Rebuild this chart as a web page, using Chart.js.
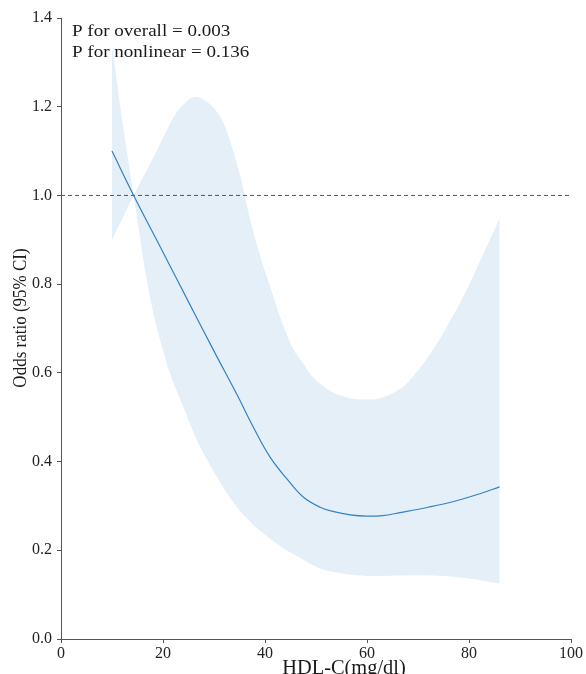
<!DOCTYPE html>
<html>
<head>
<meta charset="utf-8">
<script src="https://cdn.jsdelivr.net/npm/chart.js@4/dist/chart.umd.min.js"></script>
<style>
  body { margin: 0; background: #fff; }
  #wrap { width: 586px; height: 674px; }
</style>
</head>
<body>
<div id="wrap"><canvas id="rcs"></canvas></div>
<script>
// fitted odds ratio curve
const orX = [10, 14.25, 20, 25, 30, 34.5, 37.7, 41, 44.3, 47.5, 50.8, 53.5, 56.7, 60, 63, 66.5, 72, 77, 82, 86]
const orY = [1.10, 1.0, 0.872, 0.76, 0.649, 0.551, 0.478, 0.41, 0.361, 0.32, 0.297, 0.287, 0.28, 0.277, 0.278, 0.285, 0.297, 0.31, 0.327, 0.343]

// CI boundary that starts high (crosses at ~14)
const ciAX = [10, 12, 14.25, 16.85, 18.5, 20, 21.4, 24, 27, 30.6, 34, 37.5, 40, 43.6, 47, 50.2, 54, 58, 62, 66.5, 72.4, 78.9, 86]
const ciAY = [1.34, 1.17, 1.0, 0.808, 0.715, 0.651, 0.598, 0.523, 0.44, 0.365, 0.305, 0.26, 0.235, 0.205, 0.182, 0.162, 0.15, 0.144, 0.142, 0.143, 0.143, 0.138, 0.125]

// CI boundary that starts low
const ciBX = [10, 14.25, 18.8, 22.1, 24, 26.3, 28.5, 30.5, 31.9, 33.5, 35, 37, 39, 41, 43, 45.5, 47.5, 49, 50.8, 53.5, 56.7, 59.3, 62.6, 66.5, 69.1, 72.4, 75.6, 79, 82.2, 86]
const ciBY = [0.90, 1.0, 1.101, 1.176, 1.205, 1.222, 1.212, 1.19, 1.162, 1.11, 1.05, 0.95, 0.865, 0.795, 0.725, 0.655, 0.621, 0.596, 0.576, 0.555, 0.543, 0.54, 0.543, 0.564, 0.593, 0.643, 0.703, 0.775, 0.853, 0.948]

const refX = [0, 100]
const refY = [1.0, 1.0]

const xTicks = [0, 20, 40, 60, 80, 100]
const yTicks = [0, 0.2, 0.4, 0.6, 0.8, 1.0, 1.2, 1.4]

const pvals = ['P for overall = 0.003', 'P for nonlinear = 0.136']

const toPts = (xs, ys) => xs.map((x, i) => ({ x: x, y: ys[i] }))

const serif = '"Liberation Serif", "Times New Roman", serif'
const axisGrey = '#555'
const bandColor = 'rgb(228,239,247)'

//texts that sit outside the library titles
const textPlugin = {
    id: 'texts',
    afterDraw(chart) {
        const ctx = chart.ctx
        ctx.save()
        ctx.fillStyle = '#1a1a1a'
        ctx.textBaseline = 'alphabetic'
        ctx.textAlign = 'left'
        ctx.font = '17px ' + serif
        pvals.forEach((t, i) => {
            ctx.save()
            ctx.translate(72, 36 + i * 21)
            ctx.scale(1.12, 1)
            ctx.fillText(t, 0, 0)
            ctx.restore()
        })

        // x title
        ctx.save()
        ctx.font = '20px ' + serif
        ctx.textAlign = 'center'
        ctx.translate(344, 674)
        ctx.scale(1.02, 1)
        ctx.fillText('HDL-C(mg/dl)', 0, 0)
        ctx.restore()

        // y title
        ctx.save()
        ctx.font = '17px ' + serif
        ctx.textAlign = 'center'
        ctx.textBaseline = 'middle'
        ctx.translate(21, 318)
        ctx.rotate(-Math.PI / 2)
        ctx.scale(1, 1.1)
        ctx.fillText('Odds ratio (95% CI)', 0, 0)
        ctx.restore()
        ctx.restore()
    }
}

const ctx = document.getElementById('rcs').getContext('2d')
const myChart = new Chart(ctx, {
    type: 'line',
    data: {
        datasets: [
            {
                label: 'OR',
                data: toPts(orX, orY),
                borderColor: 'rgb(52,130,196)',
                borderWidth: 1.2,
                pointRadius: 0,
                tension: 0.4,
                fill: false,
                order: 0
            },
            {
                label: 'ref',
                data: toPts(refX, refY),
                borderColor: axisGrey,
                borderWidth: 1,
                borderDash: [4, 3],
                pointRadius: 0,
                fill: false,
                order: 1
            },
            {
                label: 'ciA',
                data: toPts(ciAX, ciAY),
                borderWidth: 0,
                borderColor: 'rgba(0,0,0,0)',
                pointRadius: 0,
                tension: 0.4,
                fill: false,
                order: 2
            },
            {
                label: 'ciB',
                data: toPts(ciBX, ciBY),
                borderWidth: 0,
                borderColor: 'rgba(0,0,0,0)',
                backgroundColor: bandColor,
                pointRadius: 0,
                tension: 0.4,
                fill: { target: 2 },
                order: 3
            }
        ]
    },
    options: {
        responsive: true,
        maintainAspectRatio: false,
        animation: false,
        layout: { padding: { top: 18, right: 15, left: 0, bottom: 0 } },
        plugins: {
            legend: { display: false },
            tooltip: { enabled: false }
        },
        scales: {
            x: {
                type: 'linear',
                min: 0,
                max: 100,
                afterFit: (s) => { s.height = 35 },
                afterBuildTicks: (s) => { s.ticks = xTicks.map(v => ({ value: v })) },
                grid: { drawOnChartArea: false, tickLength: 4, color: axisGrey },
                border: { color: axisGrey, width: 1 },
                ticks: { padding: 1, color: '#222', font: { family: serif, size: 16 }, maxRotation: 0 }
            },
            y: {
                type: 'linear',
                min: 0,
                max: 1.4,
                afterFit: (s) => { s.width = 61 },
                afterBuildTicks: (s) => { s.ticks = yTicks.map(v => ({ value: v })) },
                grid: { drawOnChartArea: false, tickLength: 4, color: axisGrey },
                border: { color: axisGrey, width: 1 },
                ticks: {
                    padding: 5,
                    color: '#222',
                    font: { family: serif, size: 16 },
                    callback: (v) => Number(v).toFixed(1)
                }
            }
        }
    },
    plugins: [textPlugin]
})
</script>
</body>
</html>
